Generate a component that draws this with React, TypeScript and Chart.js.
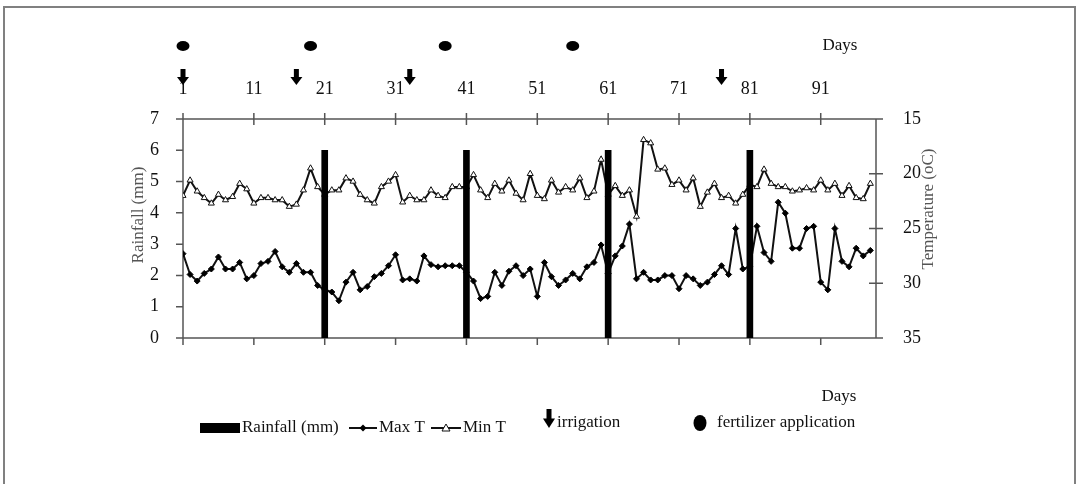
import React, { useEffect, useRef } from 'react';
import { Chart, registerables } from 'chart.js';

Chart.register(...registerables);

// ---- data ----
const days = Array.from({ length: 98 }, (_, i) => i + 1);
const dayTicks = [1, 11, 21, 31, 41, 51, 61, 71, 81, 91];
const rainTicks = [0, 1, 2, 3, 4, 5, 6, 7];
const tempTicks = [15, 20, 25, 30, 35];

const rainDays = [21, 41, 61, 81];
const rainfall = [6, 6, 6, 6];

const maxT = [
  27.3, 29.2, 29.8, 29.1, 28.7, 27.6, 28.7, 28.7, 28.1, 29.6,
  29.3, 28.2, 28.0, 27.1, 28.5, 29.0, 28.2, 29.0, 29.0, 30.2,
  30.6, 30.8, 31.6, 29.9, 29.0, 30.6, 30.3, 29.4, 29.1, 28.4,
  27.4, 29.7, 29.6, 29.8, 27.5, 28.3, 28.5, 28.4, 28.4, 28.4,
  29.0, 29.8, 31.4, 31.2, 29.0, 30.2, 28.9, 28.4, 29.3, 28.7,
  31.2, 28.1, 29.4, 30.2, 29.7, 29.1, 29.6, 28.5, 28.1, 26.5,
  29.1, 27.5, 26.6, 24.6, 29.6, 29.0, 29.7, 29.7, 29.3, 29.3,
  30.5, 29.3, 29.6, 30.2, 29.9, 29.2, 28.4, 29.2, 25.0, 28.7,
  28.5, 24.8, 27.2, 28.0, 22.6, 23.6, 26.8, 26.8, 25.0, 24.8,
  29.9, 30.6, 25.0, 28.0, 28.5, 26.8, 27.5, 27.0,
];

const minT = [
  22.0, 20.6, 21.6, 22.2, 22.7, 21.9, 22.4, 22.1, 20.9, 21.4,
  22.7, 22.2, 22.2, 22.4, 22.4, 23.0, 22.8, 21.5, 19.5, 21.2,
  21.9, 21.5, 21.5, 20.4, 20.7, 21.9, 22.4, 22.7, 21.2, 20.7,
  20.1, 22.6, 22.0, 22.4, 22.4, 21.5, 22.0, 22.2, 21.2, 21.2,
  21.2, 20.1, 21.5, 22.2, 20.9, 21.6, 20.6, 21.8, 22.4, 20.0,
  22.0, 22.3, 20.6, 21.7, 21.2, 21.5, 20.4, 22.2, 21.6, 18.7,
  21.9, 21.1, 22.0, 21.5, 23.9, 16.9, 17.2, 19.6, 19.5, 21.0,
  20.6, 21.5, 20.4, 23.0, 21.7, 20.9, 22.2, 22.0, 22.7, 21.9,
  21.0, 21.2, 19.6, 20.9, 21.2, 21.2, 21.6, 21.5, 21.3, 21.5,
  20.6, 21.5, 20.9, 22.0, 21.1, 22.2, 22.3, 20.9,
];

const irrigationDays = [1, 17, 33, 77];
const fertilizerDays = [1, 19, 38, 56];

const SERIF = "'Liberation Serif', 'Times New Roman', serif";

function drawArrow(ctx: CanvasRenderingContext2D, x: number, top: number, bottom: number) {
  const h = bottom - top;
  const shaftEnd = top + h * 0.5;
  ctx.fillRect(x - 2.5, top, 5, shaftEnd - top + 0.5);
  ctx.beginPath();
  ctx.moveTo(x - 6, shaftEnd);
  ctx.lineTo(x + 6, shaftEnd);
  ctx.lineTo(x, bottom);
  ctx.closePath();
  ctx.fill();
}

const decor = {
  id: 'decor',
  beforeDatasetsDraw(chart: any) {
    const { ctx, chartArea: a, scales } = chart;
    ctx.save();
    ctx.strokeStyle = '#555';
    ctx.lineWidth = 1.5;
    ctx.beginPath();
    ctx.moveTo(a.left - 7, a.top);
    ctx.lineTo(a.right + 7, a.top);
    ctx.moveTo(a.left, a.bottom);
    ctx.lineTo(a.right + 7, a.bottom);
    ctx.moveTo(a.left, a.top);
    ctx.lineTo(a.left, a.bottom);
    ctx.moveTo(a.right, a.top);
    ctx.lineTo(a.right, a.bottom);
    rainTicks.forEach((v) => {
      const y = scales.y.getPixelForValue(v);
      ctx.moveTo(a.left - 7, y);
      ctx.lineTo(a.left, y);
    });
    tempTicks.forEach((v) => {
      const y = scales.y2.getPixelForValue(v);
      ctx.moveTo(a.right - 7, y);
      ctx.lineTo(a.right + 7, y);
    });
    dayTicks.forEach((v) => {
      const xt = scales.x2.getPixelForValue(v);
      ctx.moveTo(xt, a.top - 6);
      ctx.lineTo(xt, a.top + 6);
      const xb = scales.x.getPixelForValue(v);
      ctx.moveTo(xb, a.bottom);
      ctx.lineTo(xb, a.bottom + 7);
    });
    ctx.stroke();
    ctx.restore();
  },
  afterDraw(chart: any) {
    const { ctx, scales } = chart;
    ctx.save();

    // axis titles
    ctx.fillStyle = '#555';
    ctx.font = `17px ${SERIF}`;
    ctx.textAlign = 'center';
    ctx.textBaseline = 'middle';
    ctx.save();
    ctx.translate(139, 215);
    ctx.rotate(-Math.PI / 2);
    ctx.fillText('Rainfall (mm)', 0, 0);
    ctx.restore();
    ctx.save();
    ctx.translate(929, 209);
    ctx.rotate(-Math.PI / 2);
    ctx.fillText('Temperature (oC)', 0, 0);
    ctx.restore();

    // "Days" labels
    ctx.fillStyle = '#111';
    ctx.fillText('Days', 840, 46);
    ctx.fillText('Days', 839, 397);

    // irrigation arrows and fertilizer marks on top
    ctx.fillStyle = '#000';
    irrigationDays.forEach((d) => {
      const x = scales.x2.getPixelForValue(d);
      drawArrow(ctx, x, 69, 85);
    });
    fertilizerDays.forEach((d) => {
      const x = scales.x2.getPixelForValue(d);
      ctx.beginPath();
      ctx.ellipse(x, 46, 6.5, 5, 0, 0, Math.PI * 2);
      ctx.fill();
    });

    // legend
    const ly = 428;
    ctx.textAlign = 'left';
    ctx.fillStyle = '#000';
    ctx.fillRect(200, ly - 5, 40, 10);
    ctx.fillStyle = '#111';
    ctx.fillText('Rainfall (mm)', 242, ly);

    ctx.strokeStyle = '#111';
    ctx.lineWidth = 2;
    ctx.beginPath();
    ctx.moveTo(349, ly);
    ctx.lineTo(377, ly);
    ctx.moveTo(431, ly);
    ctx.lineTo(461, ly);
    ctx.stroke();
    ctx.fillStyle = '#000';
    ctx.beginPath();
    ctx.moveTo(363, ly - 3.5);
    ctx.lineTo(366.5, ly);
    ctx.lineTo(363, ly + 3.5);
    ctx.lineTo(359.5, ly);
    ctx.closePath();
    ctx.fill();
    ctx.fillStyle = '#fff';
    ctx.lineWidth = 1;
    ctx.beginPath();
    ctx.moveTo(446, ly - 4);
    ctx.lineTo(450, ly + 3);
    ctx.lineTo(442, ly + 3);
    ctx.closePath();
    ctx.fill();
    ctx.stroke();
    ctx.fillStyle = '#111';
    ctx.fillText('Max T', 379, ly);
    ctx.fillText('Min T', 463, ly);

    ctx.fillStyle = '#000';
    drawArrow(ctx, 549, 409, 428);
    ctx.fillStyle = '#111';
    ctx.fillText('irrigation', 557, 423);
    ctx.fillStyle = '#000';
    ctx.beginPath();
    ctx.ellipse(700, 423, 6.5, 8, 0, 0, Math.PI * 2);
    ctx.fill();
    ctx.fillStyle = '#111';
    ctx.fillText('fertilizer application', 717, 423);

    // outer frame
    ctx.strokeStyle = '#808080';
    ctx.lineWidth = 2;
    ctx.beginPath();
    ctx.moveTo(4, 484);
    ctx.lineTo(4, 7);
    ctx.lineTo(1075, 7);
    ctx.lineTo(1075, 484);
    ctx.stroke();

    ctx.restore();
  },
};

export default function App() {
  const ref = useRef<HTMLCanvasElement | null>(null);

  useEffect(() => {
    if (!ref.current) return;
    const tickFont = { family: SERIF, size: 18 };
    const chart = new Chart(ref.current, {
      type: 'line',
      data: {
        datasets: [
          {
            type: 'bar',
            label: 'Rainfall (mm)',
            data: rainDays.map((d, i) => ({ x: d, y: rainfall[i] })),
            backgroundColor: '#000',
            borderWidth: 0,
            barThickness: 6,
            xAxisID: 'x',
            yAxisID: 'y',
            order: 0,
          } as any,
          {
            type: 'line',
            label: 'Max T',
            data: days.map((d, i) => ({ x: d, y: maxT[i] })),
            borderColor: '#111',
            borderWidth: 2,
            pointStyle: 'rectRot',
            pointRadius: 3,
            pointBackgroundColor: '#000',
            pointBorderColor: '#000',
            pointBorderWidth: 1,
            tension: 0,
            xAxisID: 'x',
            yAxisID: 'y2',
            order: 1,
          },
          {
            type: 'line',
            label: 'Min T',
            data: days.map((d, i) => ({ x: d, y: minT[i] })),
            borderColor: '#111',
            borderWidth: 2,
            pointStyle: 'triangle',
            pointRadius: 3.5,
            pointBackgroundColor: '#fff',
            pointBorderColor: '#111',
            pointBorderWidth: 1,
            tension: 0,
            xAxisID: 'x',
            yAxisID: 'y2',
            order: 2,
          },
        ],
      },
      options: {
        responsive: false,
        animation: false,
        devicePixelRatio: 1,
        layout: { padding: 0 },
        plugins: { legend: { display: false }, tooltip: { enabled: false } },
        scales: {
          x: {
            type: 'linear',
            position: 'bottom',
            min: 1,
            max: 98.8,
            offset: false,
            grid: { display: false, offset: false },
            border: { display: false },
            ticks: { display: false },
            afterFit: (s: any) => { s.height = 146; },
          },
          x2: {
            type: 'linear',
            position: 'top',
            min: 1,
            max: 98.8,
            offset: false,
            grid: { display: false },
            border: { display: false },
            afterBuildTicks: (s: any) => { s.ticks = dayTicks.map((v) => ({ value: v })); },
            ticks: { autoSkip: false, maxRotation: 0, padding: 11, color: '#111', font: tickFont },
            afterFit: (s: any) => { s.height = 119; },
          },
          y: {
            type: 'linear',
            position: 'left',
            min: 0,
            max: 7,
            grid: { display: false },
            border: { display: false },
            afterBuildTicks: (s: any) => { s.ticks = rainTicks.map((v) => ({ value: v })); },
            ticks: { padding: 16, color: '#111', font: tickFont },
            afterFit: (s: any) => { s.width = 183; },
          },
          y2: {
            type: 'linear',
            position: 'right',
            min: 15,
            max: 35,
            reverse: true,
            grid: { display: false },
            border: { display: false },
            afterBuildTicks: (s: any) => { s.ticks = tempTicks.map((v) => ({ value: v })); },
            ticks: { padding: 19, color: '#111', font: tickFont },
            afterFit: (s: any) => { s.width = 201; },
          },
        },
      } as any,
      plugins: [decor],
    });
    return () => chart.destroy();
  }, []);

  return (
    <div style={{ position: 'absolute', left: 0, top: 0, width: 1077, height: 484, background: '#fff' }}>
      <canvas ref={ref} width={1077} height={484} style={{ width: 1077, height: 484, display: 'block' }} />
    </div>
  );
}
